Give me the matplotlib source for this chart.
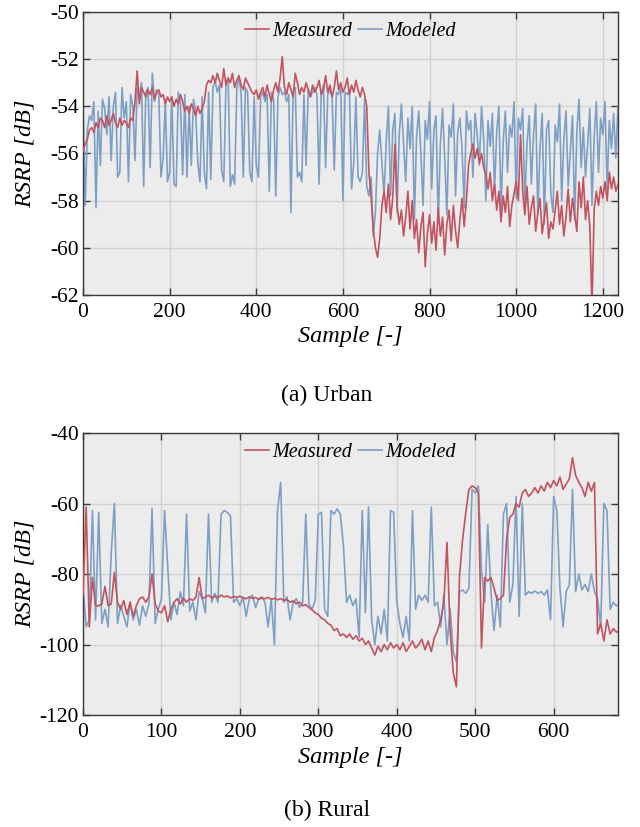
import numpy as np
import matplotlib
matplotlib.use("Agg")
import matplotlib.pyplot as plt

plt.rcParams['font.family'] = ['Liberation Serif', 'DejaVu Serif']
plt.rcParams['axes.unicode_minus'] = False

# ---------------- Urban data (one value every 5 samples) ----------------
urban_step = 5
urban_measured = [
    -55.9, -55.6, -55.4, -55.0, -54.9, -55.1, -54.7, -54.9, -54.5, -54.6, -54.9, -54.4, -54.8, -54.6, -54.3, -54.7, -54.9, -54.5, -54.8, -54.6,
    -54.7, -54.9, -54.5, -54.6, -53.8, -52.5, -53.9, -53.2, -53.4, -53.6, -53.3, -53.5, -53.2, -53.7, -53.4, -53.3, -53.6, -53.5, -53.9, -53.6,
    -53.8, -53.6, -54.0, -53.7, -53.9, -53.5, -53.8, -54.2, -54.0, -54.3, -53.9, -54.1, -54.4, -54.0, -54.3, -54.1, -53.8, -53.1, -52.9, -53.0,
    -52.7, -53.0, -52.6, -52.9, -53.2, -52.4, -53.1, -52.8, -53.0, -52.6, -53.2, -52.9, -52.7, -53.1, -53.3, -52.8, -53.0, -53.2, -53.4, -53.5,
    -53.3, -53.7, -53.4, -53.2, -53.6, -53.1, -53.5, -53.8, -53.3, -53.0, -53.4, -52.8, -51.9, -53.2, -53.5, -53.0, -53.3, -53.6, -52.6, -53.0,
    -53.5, -53.2, -53.4, -53.0, -53.3, -53.6, -53.1, -53.4, -53.2, -52.9, -53.5, -53.3, -52.7, -53.4, -53.1, -53.6, -53.2, -52.5, -53.3, -53.0,
    -53.4, -53.2, -52.8, -53.5, -53.1, -53.4, -52.9, -53.3, -53.6, -53.2, -53.5, -54.0, -56.8, -57.8, -59.2, -60.0, -60.4, -59.6, -58.2, -57.6,
    -58.5, -57.3, -58.8, -57.9, -55.6, -58.2, -59.0, -58.4, -59.5, -58.7, -57.6, -59.2, -58.0, -59.6, -58.8, -60.2, -59.1, -58.5, -60.8, -59.4,
    -58.6, -59.8, -58.9, -60.1, -58.3, -59.5, -58.7, -60.3, -59.0, -58.4, -59.7, -58.2, -59.3, -60.0, -58.8, -57.9, -59.1, -58.0, -56.5, -56.0,
    -55.6, -56.2, -55.8, -56.4, -56.0, -56.6, -56.9, -57.5, -56.8, -58.0, -57.3, -58.4, -57.6, -58.9, -57.8, -58.5, -57.4, -59.1, -58.2, -57.7,
    -57.2, -58.0, -55.2, -57.6, -58.6, -57.4, -59.0, -58.3, -57.8, -59.3, -58.5, -57.9, -59.4, -58.7, -58.1, -59.6, -58.9, -59.2, -58.4, -57.6,
    -59.0, -58.2, -59.5, -58.7, -57.5, -58.9, -57.9, -58.6, -59.3, -57.2, -58.3, -57.0, -58.8, -58.0, -59.1, -62.5, -58.4, -57.6, -58.2, -57.4,
    -57.9, -57.2, -58.0, -56.8, -57.5, -57.0, -57.6, -57.3,
]
urban_modeled = [
    -53.9, -58.2, -55.0, -54.4, -54.6, -53.8, -58.3, -54.2, -56.5, -53.7, -54.1, -55.2, -53.6, -56.3, -54.0, -53.4, -57.0, -56.8, -53.2, -54.5,
    -53.8, -57.2, -53.5, -54.0, -56.3, -53.2, -53.6, -53.0, -57.4, -53.4, -53.2, -56.6, -52.6, -53.8, -53.3, -53.5, -57.0, -56.2, -53.7, -57.2,
    -56.8, -53.6, -57.3, -57.4, -53.4, -53.9, -56.9, -53.5, -57.0, -54.0, -56.5, -53.7, -54.2, -56.4, -57.2, -53.6, -56.8, -57.5, -53.4, -57.1,
    -53.2, -52.9, -53.4, -53.1, -56.7, -57.2, -53.0, -52.8, -57.4, -56.9, -57.3, -53.3, -52.7, -53.5, -57.0, -53.2, -53.4, -56.8, -57.2, -53.6,
    -56.5, -57.0, -53.6, -53.4, -53.8, -53.5, -57.6, -53.4, -53.7, -57.8, -53.6, -53.2, -53.5, -53.4, -53.8, -53.5, -58.5, -53.4, -53.2, -57.0,
    -56.8, -57.2, -53.5, -56.5, -53.3, -53.6, -53.4, -53.2, -53.5, -57.3, -53.4, -53.1, -56.6, -53.5, -53.3, -53.6, -56.7, -53.4, -53.5, -53.2,
    -58.0, -53.4, -53.5, -53.3, -57.5, -56.4, -53.6, -57.0, -57.2, -56.8, -53.7, -57.4, -57.8, -57.0, -59.5, -58.5, -56.0, -55.0, -56.4, -57.8,
    -55.5, -54.0, -57.8, -55.0, -54.3, -58.5, -55.2, -53.9, -55.6, -57.2, -54.5, -55.8, -54.0, -58.8, -55.3, -54.2, -56.0, -58.2, -54.6, -55.4,
    -53.8, -57.5, -55.0, -54.4, -59.0, -55.6, -54.1, -56.2, -58.6, -54.8, -55.3, -53.9, -57.8, -55.1, -54.5, -55.8, -58.3, -54.2, -55.0, -54.6,
    -57.0, -54.3, -55.2, -56.5, -54.0, -55.4, -58.0, -54.6, -55.7, -54.3, -57.6, -55.1, -54.0, -58.4, -55.5, -54.2, -56.8, -54.8, -55.3, -53.8,
    -57.9, -54.5, -55.0, -54.1, -58.2, -55.6, -54.4, -57.3, -55.2, -53.9, -58.6, -55.8, -54.3, -59.0, -55.0, -54.6, -57.7, -58.5, -54.8, -55.5,
    -53.9, -58.0, -55.4, -54.2, -57.4, -55.9, -54.4, -58.8, -55.1, -53.7, -56.6, -54.9, -57.0, -55.6, -54.1, -58.2, -55.3, -53.8, -56.8, -54.5,
    -55.2, -53.8, -57.5, -54.6, -55.8, -54.3, -56.2, -54.0,
]

# ---------------- Rural data (one value every 4 samples) ----------------
rural_step = 4
rural_measured = [
    -86.0, -61.0, -95.0, -81.0, -89.0, -89.0, -88.5, -83.5, -89.0, -88.5, -79.5, -88.0, -90.0, -87.5, -91.5, -88.0, -92.0, -89.0, -87.0, -86.5, -88.0, -86.5, -80.0, -88.5, -90.5,
    -91.0, -89.0, -93.5, -90.0, -88.0, -87.0, -88.5, -86.8, -88.0, -87.0, -87.5, -86.5, -81.0, -87.0, -86.5, -86.0, -86.8, -86.3, -86.7, -86.0, -86.5, -86.2, -86.8, -86.4, -86.6,
    -86.3, -86.8, -87.0, -86.5, -86.9, -86.7, -87.2, -86.8, -87.0, -86.6, -87.2, -86.9, -87.3, -87.0, -87.5, -87.3, -88.0, -87.6, -88.4, -88.0, -89.0, -88.7, -89.5, -90.2, -91.0,
    -91.5, -92.5, -93.0, -94.0, -94.5, -96.0, -95.5, -97.5, -97.0, -98.0, -97.0, -98.5, -97.5, -99.0, -98.2, -100.0, -99.0, -101.0, -103.0, -100.5, -102.0, -100.0, -101.5, -99.5, -101.0,
    -100.0, -101.5, -99.5, -102.0, -100.5, -99.0, -101.0, -100.0, -98.5, -101.5, -99.0, -102.0, -98.0, -96.0, -93.0, -88.0, -71.0, -96.0, -108.0, -112.0, -80.5, -70.0, -62.5, -56.0, -55.0,
    -55.5, -57.0, -101.0, -81.0, -82.0, -81.0, -84.0, -87.5, -87.0, -86.0, -70.0, -64.0, -63.0, -60.0, -61.0, -57.0, -56.0, -58.0, -57.0, -55.5, -57.0, -55.0, -56.5, -54.0, -55.5,
    -53.5, -55.0, -52.5, -56.0, -54.5, -53.0, -47.0, -52.0, -54.0, -55.5, -58.0, -54.0, -56.5, -54.0, -97.0, -94.0, -99.0, -93.0, -97.0, -95.5, -96.5, -96.0,
]
rural_modeled = [
    -84.0, -95.0, -93.0, -62.0, -93.0, -62.5, -94.0, -90.0, -95.0, -74.0, -60.0, -94.0, -89.0, -92.0, -95.0, -88.0, -93.0, -90.0, -94.5, -89.0, -92.0, -88.5, -61.5, -94.0, -90.0,
    -87.0, -62.0, -78.0, -93.0, -88.0, -91.5, -85.0, -89.0, -63.0, -90.5, -88.0, -93.0, -85.0, -87.0, -91.0, -63.0, -88.0, -85.5, -88.0, -63.0, -62.0, -62.5, -63.5, -88.0, -87.0,
    -89.0, -86.5, -92.0, -87.0, -86.0, -89.5, -87.0, -86.5, -88.0, -95.0, -87.0, -100.0, -62.0, -54.0, -88.0, -86.5, -93.0, -88.0, -87.0, -89.5, -88.0, -63.0, -88.5, -90.0, -87.5,
    -63.0, -62.5, -90.0, -92.0, -62.0, -63.0, -61.5, -63.0, -72.0, -88.0, -86.0, -89.0, -87.0, -98.0, -62.0, -91.0, -61.0, -93.0, -100.0, -92.0, -97.0, -90.0, -99.0, -62.0, -62.5,
    -88.0, -94.0, -98.0, -92.0, -99.0, -62.0, -90.0, -86.0, -87.5, -86.0, -88.0, -61.0, -89.0, -88.0, -95.0, -86.0, -100.0, -90.0, -102.0, -105.0, -85.0, -84.5, -85.5, -84.0, -56.0,
    -57.0, -55.0, -79.0, -88.0, -66.0, -85.0, -96.0, -86.0, -95.0, -63.0, -60.0, -88.0, -83.0, -58.0, -92.0, -60.0, -86.0, -85.0, -85.5, -84.8, -85.5, -85.0, -86.0, -84.5, -93.0,
    -58.0, -62.0, -84.0, -95.0, -85.0, -83.0, -56.0, -85.0, -80.0, -84.5, -83.0, -85.0, -80.0, -85.0, -87.0, -95.0, -60.0, -62.0, -90.0, -88.0, -89.0, -88.5,
]

RED = '#C25360'
BLUE = '#7E9FC5'
BG = '#ECECEC'
GRID = '#D2D2D2'
SPINE = '#3A3A3A'

fig = plt.figure(figsize=(6.4, 8.27), dpi=100)
ax1 = fig.add_axes([0.1297, 0.6433, 0.8359, 0.3422])
ax2 = fig.add_axes([0.1297, 0.1354, 0.8359, 0.3410])


def style(ax, xlim, ylim, xticks, yticks):
    ax.set_facecolor(BG)
    ax.set_xlim(*xlim)
    ax.set_ylim(*ylim)
    ax.set_xticks(xticks)
    ax.set_yticks(yticks)
    ax.grid(True, color=GRID, linewidth=1.0)
    ax.set_axisbelow(True)
    for s in ax.spines.values():
        s.set_color(SPINE)
        s.set_linewidth(1.0)
    ax.tick_params(direction='in', top=True, right=True, length=5, width=1.0,
                   color=SPINE, labelsize=15.5)
    ax.tick_params(axis='x', pad=6)
    ax.tick_params(axis='y', pad=3)
    ax.set_xlabel('Sample [-]', fontsize=17.5, fontstyle='italic', labelpad=3)
    ax.set_ylabel('RSRP [dB]', fontsize=17.5, fontstyle='italic')


def draw(ax, step, meas, model):
    xm = np.arange(len(meas)) * step
    xo = np.arange(len(model)) * step
    ax.plot(xo, model, color=BLUE, lw=1.2, label='Modeled', zorder=2)
    ax.plot(xm, meas, color=RED, lw=1.2, label='Measured', zorder=3)
    h, l = ax.get_legend_handles_labels()
    ax.legend([h[1], h[0]], [l[1], l[0]], loc='upper center', ncol=2,
              frameon=False, handlelength=1.2,
              handletextpad=0.15, columnspacing=0.3,
              borderaxespad=0.1, prop={'style': 'italic', 'size': 14.5})


draw(ax1, urban_step, urban_measured, urban_modeled)
style(ax1, (0, 1235), (-62, -50), range(0, 1201, 200), range(-62, -49, 2))
draw(ax2, rural_step, rural_measured, rural_modeled)
style(ax2, (0, 682), (-120, -40), range(0, 601, 100), range(-120, -39, 20))

ax1.yaxis.set_label_coords(-0.088, 0.5)
ax2.yaxis.set_label_coords(-0.088, 0.5)

fig.text(0.511, 0.5224, '(a) Urban', ha='center', va='center', fontsize=17)
fig.text(0.511, 0.0206, '(b) Rural', ha='center', va='center', fontsize=17)

fig.savefig('out.png', dpi=100, facecolor='white')
